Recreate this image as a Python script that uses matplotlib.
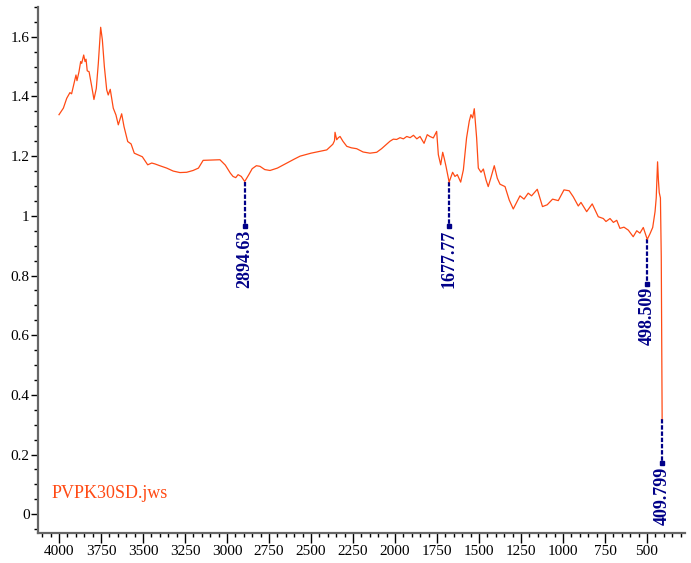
import matplotlib.pyplot as plt
from matplotlib.ticker import MultipleLocator, FormatStrFormatter

plt.rcParams['font.family'] = ['Liberation Serif', 'DejaVu Serif']

# spectrum (wavenumber, absorbance)
wavenumber = [4000, 3974, 3954, 3935, 3925, 3911, 3899, 3893, 3881, 3871,
	3865, 3853, 3845, 3839, 3832, 3821, 3805, 3792, 3778, 3766,
	3752, 3742, 3730, 3716, 3707, 3695, 3677, 3661, 3647, 3627,
	3613, 3591, 3571, 3552, 3528, 3504, 3472, 3448, 3429, 3400,
	3359, 3320, 3280, 3240, 3202, 3170, 3142, 3090, 3042, 3010,
	2980, 2964, 2948, 2934, 2915, 2894.63, 2870, 2850, 2825, 2804,
	2775, 2744, 2700, 2650, 2600, 2565, 2500, 2450, 2406, 2385,
	2370, 2360, 2357, 2347, 2337, 2327, 2310, 2287, 2260, 2228,
	2190, 2149, 2109, 2080, 2060, 2030, 2010, 1990, 1970, 1950,
	1930, 1910, 1890, 1870, 1851, 1827, 1808, 1792, 1772, 1752,
	1742, 1728, 1716, 1707, 1696, 1677.77, 1657, 1643, 1629, 1609,
	1593, 1574, 1558, 1548, 1538, 1528, 1514, 1504, 1488, 1474,
	1458, 1445, 1430, 1409, 1391, 1375, 1345, 1320, 1296, 1276,
	1256, 1232, 1207, 1187, 1153, 1122, 1094, 1062, 1028, 994,
	963, 939, 909, 893, 859, 826, 790, 760, 744, 720,
	700, 680, 661, 637, 611, 582, 561, 542, 522, 498.509,
	482, 466, 452, 445, 437, 432, 427, 420, 415, 409.799]
absorbance = [1.339, 1.361, 1.394, 1.413, 1.409, 1.443, 1.472, 1.453, 1.483, 1.517,
	1.511, 1.539, 1.517, 1.525, 1.486, 1.483, 1.433, 1.390, 1.427, 1.511,
	1.632, 1.590, 1.500, 1.422, 1.405, 1.424, 1.361, 1.338, 1.305, 1.342,
	1.299, 1.249, 1.241, 1.210, 1.204, 1.198, 1.171, 1.177, 1.174, 1.168,
	1.160, 1.150, 1.145, 1.146, 1.152, 1.160, 1.186, 1.187, 1.188, 1.170,
	1.143, 1.132, 1.128, 1.138, 1.132, 1.115, 1.138, 1.158, 1.168, 1.166,
	1.155, 1.152, 1.160, 1.175, 1.190, 1.200, 1.210, 1.216, 1.221, 1.232,
	1.240, 1.252, 1.280, 1.255, 1.262, 1.266, 1.250, 1.233, 1.228, 1.225,
	1.214, 1.210, 1.213, 1.225, 1.235, 1.250, 1.257, 1.256, 1.262, 1.258,
	1.266, 1.262, 1.270, 1.258, 1.266, 1.243, 1.272, 1.266, 1.261, 1.283,
	1.205, 1.171, 1.213, 1.193, 1.165, 1.113, 1.146, 1.132, 1.138, 1.113,
	1.154, 1.261, 1.317, 1.339, 1.328, 1.359, 1.261, 1.160, 1.146, 1.157,
	1.120, 1.098, 1.126, 1.168, 1.126, 1.106, 1.098, 1.053, 1.023, 1.045,
	1.067, 1.056, 1.076, 1.067, 1.089, 1.031, 1.037, 1.056, 1.051, 1.087,
	1.084, 1.064, 1.033, 1.045, 1.014, 1.040, 0.997, 0.991, 0.981, 0.991,
	0.978, 0.985, 0.958, 0.962, 0.952, 0.930, 0.950, 0.942, 0.961, 0.921,
	0.940, 0.961, 1.014, 1.060, 1.181, 1.120, 1.078, 1.060, 0.863, 0.320]

peak_labels = ['2894.63', '1677.77', '498.509', '409.799']
peak_positions = [2894.63, 1677.77, 498.509, 409.799]
peak_values = [1.115, 1.113, 0.921, 0.320]

file_label = 'PVPK30SD.jws'

line_color = '#ff4a14'
mark_color = '#000088'

fig = plt.figure(figsize=(6.91, 5.63), dpi=100)
ax = fig.add_axes([0.055, 0.0533, 0.936, 0.9343])

ax.plot(wavenumber, absorbance, color=line_color, linewidth=0.9, zorder=3)

# peak markers: dotted drop line, small square, rotated label
drop = 0.148
for name, xp, yp in zip(peak_labels, peak_positions, peak_values):
	ax.plot([xp, xp], [yp, yp - drop], color=mark_color, linewidth=1.6,
		linestyle=(0, (2, 0.8)), zorder=2)
	ax.plot(xp, yp - drop, marker='s', markersize=3.5, color=mark_color, zorder=4)
	ax.text(xp, yp - drop - 0.012, name, rotation=90, ha='center', va='top',
		fontsize=13, fontweight='bold', color=mark_color)

ax.text(4042, 0.068, file_label, color=line_color, fontsize=13, ha='left', va='center')

ax.set_xlim(4125, 275)
ax.set_ylim(-0.063, 1.70)

ax.xaxis.set_major_locator(MultipleLocator(250))
ax.xaxis.set_minor_locator(MultipleLocator(50))
ax.yaxis.set_major_locator(MultipleLocator(0.2))
ax.yaxis.set_minor_locator(MultipleLocator(0.05))
ax.yaxis.set_major_formatter(FormatStrFormatter('%g'))

ax.spines['top'].set_visible(False)
ax.spines['right'].set_visible(False)
ax.spines['left'].set_color('#666666')
ax.spines['bottom'].set_color('#666666')
ax.spines['left'].set_linewidth(1.6)
ax.spines['bottom'].set_linewidth(1.6)

ax.tick_params(axis='x', which='major', length=7, width=1, labelsize=11, pad=2)
ax.tick_params(axis='x', which='minor', length=3, width=1)
ax.tick_params(axis='y', which='major', length=5, width=1, labelsize=11, pad=1)
ax.tick_params(axis='y', which='minor', length=3, width=1)

fig.savefig('out.png', dpi=100)
